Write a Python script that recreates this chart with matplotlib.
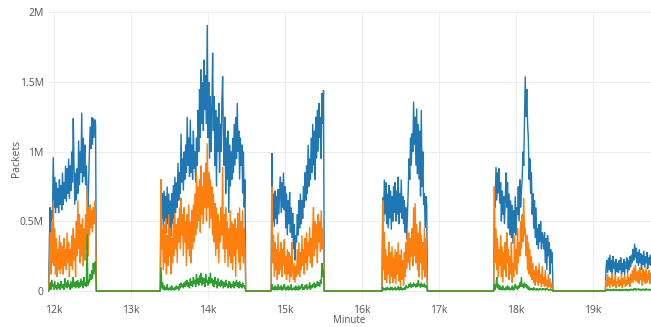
import matplotlib
matplotlib.use("Agg")
import matplotlib.pyplot as plt

# ---- data (packets, in thousands), sampled every 10 minutes inside each active period ----
seg_starts = [11940, 13390, 14830, 16270, 17720, 19170]
step_min = 10

blue = [
    # seg1
    [370, 600, 420, 580,
     520, 960, 600, 820, 560,
     780, 600, 740, 560, 800, 620, 760, 580,
     850, 620, 780, 660, 900,
     640, 880, 700, 950, 660, 900,
     720, 1000,
     780, 1240, 900,
     620, 850, 650, 880, 700,
     1080, 760, 1000, 850, 1280,
     780, 1100, 820, 1050, 760,
     900, 700, 580, 800,
     1000, 1180, 1020, 1250, 1050, 1240, 1100, 1230, 1200],
    # seg2
    [800, 520, 700,
     450, 720, 500, 680, 420, 750, 480, 700, 430,
     650, 390, 700, 480, 760, 520, 820,
     560, 780, 600, 920, 650, 850,
     700, 1130, 780, 950,
     720, 1000, 800, 1050, 850,
     1250, 900, 1100, 820,
     1230, 850, 1050, 800, 1150, 880, 1000, 780, 1100,
     900, 1300, 1000, 1450,
     1100, 1590, 1200, 1500,
     1150, 1660, 1300, 1550, 1200,
     1910,
     1100, 1500, 950, 1400, 1000, 1290,
     1710,
     1150, 1400, 900, 1300, 750, 1250, 1000, 1350, 850,
     1200, 1000, 1350, 1540, 1100,
     900, 1250, 700, 1100, 800, 1150, 560, 1050, 750, 1000, 800,
     1100, 850, 1200, 900, 1250, 950,
     1350,
     1000, 1150, 800, 1100, 900, 1050, 700, 1000, 600, 800],
    # seg3
    [990, 500, 700,
     460, 720, 520, 680, 480, 730, 550, 700,
     820, 560, 780, 600, 850, 580, 750,
     450, 700, 400, 650, 480, 710, 420, 600, 380, 560,
     300, 480, 220, 400, 350,
     550, 400, 650, 450, 700, 480, 650, 520,
     750, 600, 850, 650, 900, 700, 1050, 750, 950, 800, 1100, 850, 1200,
     900, 1150, 800, 1250, 950, 1300, 1000, 1350, 1100, 1250, 950, 1420, 1200, 1440],
    # seg4
    [670, 500, 800,
     550, 780, 480, 700, 450, 760, 520, 720, 440, 680, 500, 750, 560,
     780, 500, 720, 550, 820, 480, 700, 560, 800, 520, 680, 480, 650,
     420, 600, 370, 550,
     720, 950, 800, 1100, 900, 1130,
     1000, 1360, 1050, 1250,
     900, 1310, 840, 1200,
     800, 1150, 680, 1300, 750, 1000,
     620, 700, 450, 680, 620],
    # seg5
    [750, 600, 890, 650, 850, 700, 880, 630,
     780, 500, 720, 550, 680, 480,
     650, 850, 600, 780,
     450, 700, 400, 650, 380, 620, 340, 580, 420, 680, 400, 600,
     550, 750, 500, 800, 600, 720,
     800, 1000, 900, 1200,
     1540, 1250, 1450, 1200,
     1100, 800, 950, 700, 850,
     550, 700, 450, 650, 380, 600, 330,
     450, 300, 480, 350, 500, 300, 420, 380,
     300, 420, 200, 380, 150, 400, 250, 350, 120, 300, 200, 280],
    # seg6
    [170, 220, 130, 240, 150, 260, 140, 220, 120, 250, 160, 210, 110, 230, 140, 200,
     130, 220, 150, 240, 120, 200, 140, 230, 110, 210, 160, 240, 130, 220, 150, 250, 170, 260,
     200, 300, 220, 340, 240, 310, 200,
     280, 180, 300, 200, 270, 150, 260, 190, 290, 170, 250, 200, 280, 160, 240, 190, 260, 180, 230],
]

orange = [
    # seg1
    [150, 420, 120, 500,
     200, 650, 180, 450, 120,
     380, 100, 300, 150, 400, 120, 350, 160,
     320, 120, 380, 180, 300,
     150, 420, 200, 350, 100, 300,
     180, 400,
     150, 450, 220,
     380, 100, 500, 250, 650,
     300, 550, 200, 480, 250,
     520, 180, 450, 220, 550,
     300, 750, 250, 600,
     400, 620, 450, 580, 420, 600, 480, 650, 500],
    # seg2
    [800, 300, 450,
     150, 480, 200, 520, 120, 400, 180, 550, 250,
     450, 120, 380, 200, 500, 250, 560,
     300, 480, 200, 520, 350, 600,
     300, 670, 400, 550,
     250, 600, 350, 500, 180,
     550, 300, 620, 250,
     500, 200, 580, 300, 620, 350, 700, 400, 850,
     450, 750, 500, 800,
     420, 900, 550, 750,
     480, 850, 600, 920, 500,
     1060,
     600, 850, 450, 800, 520, 750,
     400,
     700, 350, 630, 250, 600, 300, 550, 200, 500,
     350, 600, 400, 890, 300,
     550, 200, 600, 300, 500, 170, 450, 250, 580, 200, 500,
     150, 480, 250, 520, 100, 450,
     300,
     560, 200, 600, 150, 500, 250, 580, 200, 450, 300],
    # seg3
    [750, 200, 400,
     100, 350, 150, 300, 80, 420, 120, 280,
     150, 350, 100, 300, 180, 370, 120,
     250, 80, 300, 120, 280, 60, 250, 100, 350, 150,
     80, 200, 60, 180, 100,
     300, 120, 350, 100, 280, 150, 400, 180,
     300, 120, 380, 200, 420, 150, 350, 250, 460, 200, 380, 170, 450,
     600, 250, 500, 300, 480, 200, 550, 350, 500, 280, 580, 300, 450, 350],
    # seg4
    [650, 150, 420,
     80, 300, 60, 250, 120, 350, 50, 280, 100, 320, 60, 240, 90,
     300, 50, 280, 120, 350, 70, 260, 30, 300, 80, 220, 40, 280,
     100, 350, 160, 450,
     200, 420, 150, 380, 250, 450,
     180, 600, 250, 630,
     200, 480, 150, 420,
     100, 500, 200, 400, 80, 350,
     150, 450, 100, 380, 200],
    # seg5
    [750, 200, 450, 150, 380, 100, 300, 180,
     400, 100, 320, 60, 280, 150,
     350, 100, 420, 200,
     300, 80, 250, 120, 350, 60, 200, 100, 400, 150, 300, 120,
     450, 200, 350, 250, 500, 300,
     550, 350, 670, 400,
     450, 250, 400, 150,
     350, 120, 300, 100, 250,
     80, 200, 60, 150, 40, 180, 70,
     150, 40, 200, 60, 120, 30, 180, 50,
     100, 30, 150, 40, 80, 20, 120, 30, 90, 20, 60, 30],
    # seg6
    [80, 30, 120, 40, 100, 20, 90, 50, 130, 30, 80, 40, 110, 20, 70, 50,
     100, 30, 80, 40, 120, 20, 90, 50, 110, 30, 80, 40, 130, 50, 100, 30, 120, 60,
     150, 60, 170, 80, 190, 70, 140,
     60, 150, 50, 170, 80, 130, 40, 160, 70, 140, 50, 170, 60, 120, 80, 150, 50, 130, 70],
]

green = [
    # seg1
    [20, 60, 10, 80,
     30, 50, 10, 70, 20,
     40, 10, 60, 20, 50, 10, 70, 30,
     20, 50, 10, 90, 30,
     60, 20, 80, 30, 50, 10,
     70, 20,
     50, 100, 30,
     60, 20, 70, 30, 80,
     20, 60, 30, 90, 40,
     70, 20, 100, 40, 60,
     30, 410, 40, 80,
     60, 120, 80, 150, 90, 200, 120, 210, 180],
    # seg2
    [170, 20, 60,
     10, 40, 5, 30, 10, 50, 5, 20, 10,
     30, 5, 40, 10, 20, 5, 30,
     10, 40, 15, 30, 5, 50,
     20, 60, 30, 50,
     20, 60, 30, 70, 40,
     80, 30, 60, 20,
     90, 40, 70, 30, 100, 50, 80, 30, 120,
     50, 90, 40, 110,
     60, 130, 40, 100,
     50, 90, 30, 120, 60,
     80,
     40, 100, 50, 130, 60, 90,
     40,
     80, 30, 100, 50, 70, 20, 90, 40, 60,
     30, 80, 40, 70, 20,
     60, 30, 80, 40, 50, 20, 70, 30, 60, 20, 50,
     30, 70, 20, 60, 40, 80,
     30,
     60, 20, 70, 30, 50, 20, 60, 30, 40, 20],
    # seg3
    [50, 10, 30,
     5, 40, 10, 30, 5, 50, 10, 30,
     10, 40, 5, 30, 10, 50, 20,
     5, 30, 10, 40, 5, 30, 10, 50, 5, 20,
     10, 30, 5, 40, 10,
     30, 5, 40, 10, 30, 20, 50, 10,
     30, 10, 40, 20, 50, 10, 30, 20, 60, 10, 40, 20, 50,
     30, 60, 20, 50, 30, 70, 40, 60, 30, 80, 50, 200, 100, 150],
    # seg4
    [30, 5, 20,
     5, 25, 5, 30, 10, 20, 5, 30, 10, 25, 5, 20, 10,
     30, 5, 20, 10, 35, 5, 25, 10, 30, 5, 20, 10, 25,
     10, 40, 20, 30,
     20, 50, 30, 60, 25, 45,
     30, 60, 35, 50,
     25, 55, 30, 80,
     35, 50, 25, 60, 30, 45,
     30, 55, 25, 40, 30],
    # seg5
    [50, 10, 40, 100, 20, 50, 10, 40,
     10, 30, 5, 40, 10, 20,
     5, 30, 10, 40,
     10, 30, 5, 20, 10, 40, 5, 30, 10, 50, 20, 30,
     10, 40, 20, 60, 30, 100,
     30, 50, 20, 60,
     30, 50, 20, 40,
     10, 30, 5, 20, 10,
     20, 5, 25, 10, 15, 5, 20,
     5, 15, 5, 20, 10, 15, 5, 20,
     10, 15, 5, 20, 10, 15, 5, 10, 5, 15, 5, 10],
    # seg6
    [10, 2, 15, 5, 8, 2, 12, 4, 10, 2, 15, 5, 8, 3, 12, 4,
     10, 2, 14, 5, 8, 2, 12, 4, 10, 3, 15, 5, 8, 2, 12, 4, 16, 6,
     12, 4, 18, 6, 20, 5, 14,
     8, 18, 5, 15, 4, 12, 6, 16, 5, 14, 4, 18, 6, 12, 5, 15, 4, 13, 6],
]

series_names = ["blue", "orange", "green"]
series_colors = ["#1f77b4", "#ff7f0e", "#2ca02c"]
x_ticks = [12000, 13000, 14000, 15000, 16000, 17000, 18000, 19000]
x_tick_labels = ["12k", "13k", "14k", "15k", "16k", "17k", "18k", "19k"]
y_ticks = [0, 500000, 1000000, 1500000, 2000000]
y_tick_labels = ["0", "0.5M", "1M", "1.5M", "2M"]


def build(segments):
    xs, ys = [11900], [0]
    for start, vals in zip(seg_starts, segments):
        xs.append(start - step_min)
        ys.append(0)
        for i, v in enumerate(vals):
            xs.append(start + step_min * i)
            ys.append(v * 1000)
        xs.append(start + step_min * len(vals))
        ys.append(0)
    xs.append(19900)
    ys.append(0)
    return xs, ys


plt.rcParams["font.family"] = ["Open Sans", "DejaVu Sans"]

W, H = 651, 327
fig = plt.figure(figsize=(W / 100, H / 100), dpi=100)
# axes box in pixels: left 48, right 651, top 11, bottom 300
ax = fig.add_axes([48 / W, (H - 300) / H, (651 - 48) / W, (300 - 11) / H])

for segs, col in zip([blue, orange, green], series_colors):
    xs, ys = build(segs)
    ax.plot(xs, ys, color=col, lw=1.0, solid_joinstyle="miter")

px_per_M = 139.3
ax.set_xlim(11922, 19753)
ax.set_ylim(-(300 - 291) / px_per_M * 1e6, (291 - 11) / px_per_M * 1e6)

ax.set_xticks(x_ticks)
ax.set_xticklabels(x_tick_labels)
ax.set_yticks(y_ticks)
ax.set_yticklabels(y_tick_labels)
ax.tick_params(axis="both", length=0, labelsize=7.5, labelcolor="#555555")
ax.tick_params(axis="x", pad=3.5)
ax.tick_params(axis="y", pad=3)
ax.grid(True, color="#eeeeee", lw=0.8)
ax.set_axisbelow(True)
for sp in ax.spines.values():
    sp.set_visible(False)

ax.set_ylabel("Packets", fontsize=7.5, color="#555555")
ax.yaxis.set_label_coords((22 - 48) / (651 - 48), (300 - 158) / (300 - 11))
fig.text(349 / W, (H - 326) / H, "Minute", ha="center", va="bottom",
         fontsize=7, color="#555555")

fig.savefig("out.png", dpi=100)
